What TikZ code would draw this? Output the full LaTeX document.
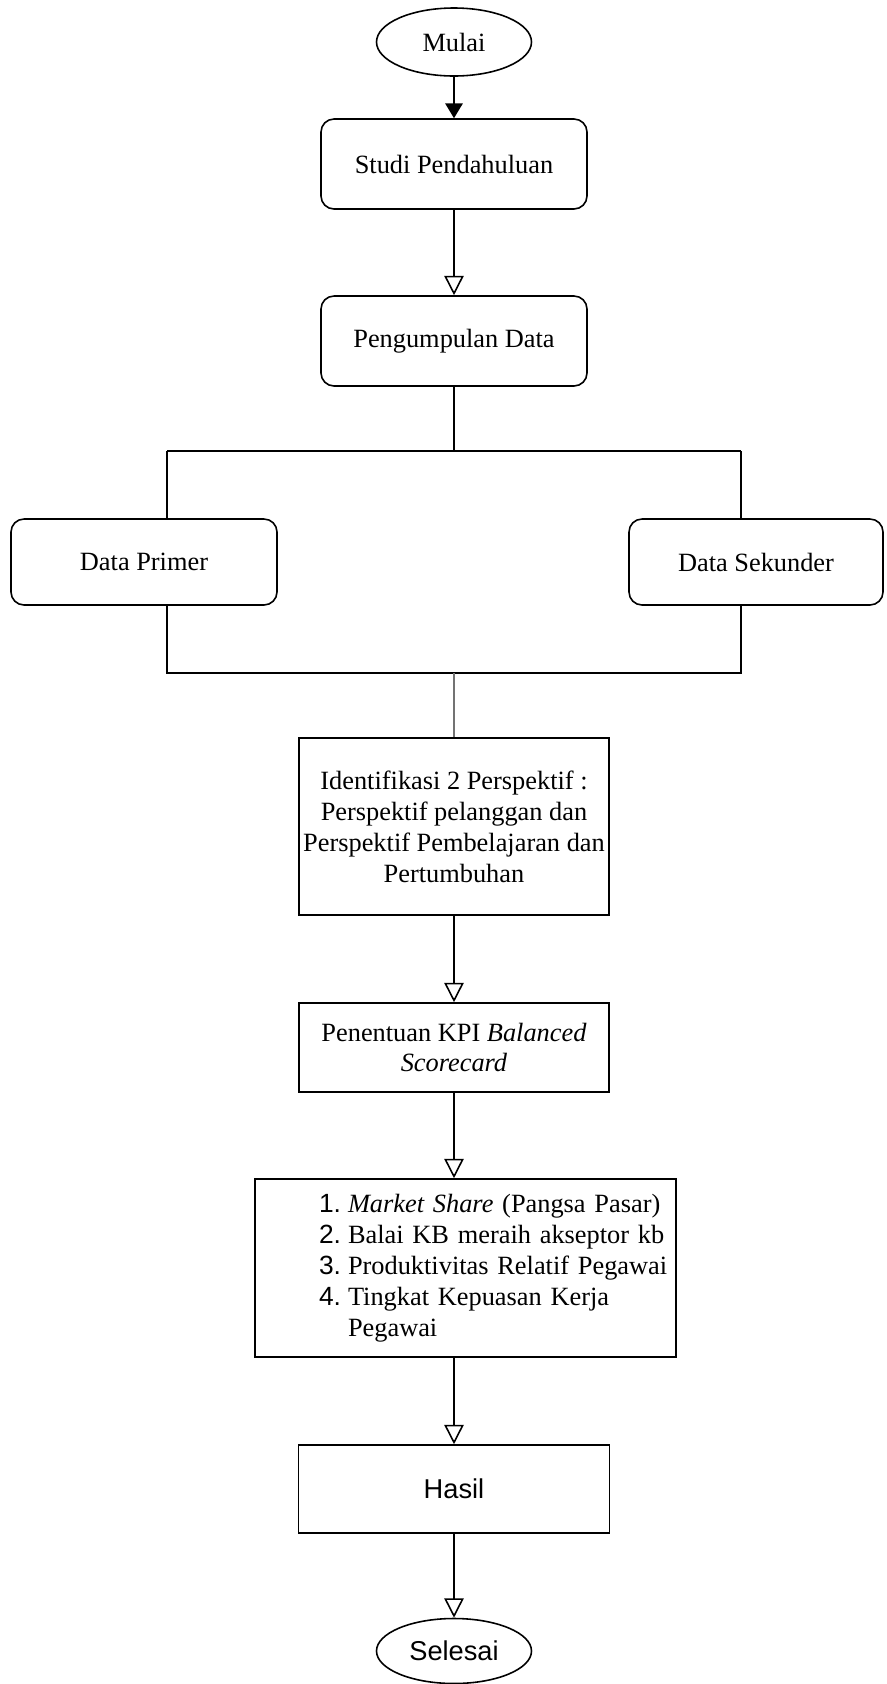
\documentclass[tikz,border=0pt]{standalone}
\usepackage{fontspec}
\setmainfont{Liberation Serif}
\setsansfont{Liberation Sans}
\usepackage{tikz}
\usetikzlibrary{shapes.geometric, arrows.meta, positioning, calc}

\begin{document}
\begin{tikzpicture}[
    terminal/.style={ellipse, draw=black, line width=0.9pt, minimum width=3.1cm, minimum height=1.36cm, inner sep=0pt, font=\fontsize{15}{17.6}\selectfont},
    process/.style={rectangle, rounded corners=0.26cm, draw=black, line width=0.9pt, minimum width=5.32cm, minimum height=1.8cm, align=center, font=\fontsize{15}{17.6}\selectfont},
    stage/.style={rectangle, draw=black, line width=0.9pt, minimum width=6.2cm, align=center, inner sep=0pt, font=\fontsize{15}{17.6}\selectfont},
    link/.style={line width=0.9pt},
    arrow/.style={line width=0.9pt, -{Triangle[open, length=11pt, width=11pt]}},
    startarrow/.style={line width=0.9pt, -{Triangle[length=8.5pt, width=10pt]}}
]
\useasboundingbox (0,0) rectangle (17.72,-33.68);

% Start and preparation
\node[terminal] (mulai) at (9.08, -0.84) {Mulai};
\node[process] (studi) at (9.08, -3.28) {Studi Pendahuluan};
\node[process] (pengumpulan) at (9.08, -6.82) {Pengumpulan Data};

% Data sources
\node[process, minimum height=1.72cm] (primer) at (2.88, -11.24) {Data Primer};
\node[process, minimum width=5.08cm, minimum height=1.72cm] (sekunder) at (15.12, -11.24) {Data Sekunder};
\coordinate (split) at (9.08, -9.02);
\coordinate (splitL) at (3.34, -9.02);
\coordinate (splitR) at (14.82, -9.02);
\coordinate (merge) at (9.08, -13.46);
\coordinate (mergeL) at (3.34, -13.46);
\coordinate (mergeR) at (14.82, -13.46);

% Analysis
\node[stage, minimum height=3.54cm] (identifikasi) at (9.08, -16.53) {Identifikasi 2 Perspektif :\\Perspektif pelanggan dan\\Perspektif Pembelajaran dan\\Pertumbuhan};
\node[stage, minimum height=1.78cm] (penentuan) at (9.08, -20.95) {Penentuan KPI \textit{Balanced}\\\textit{Scorecard}};
\node[rectangle, draw=black, line width=0.9pt, minimum width=8.42cm, minimum height=3.56cm, text width=7.9cm, inner xsep=0.26cm, align=left, font=\fontsize{15}{17.6}\selectfont] (kpi) at (9.31, -25.36) {\hspace*{1.02cm}\begin{tabular}{@{}l@{\hspace{4pt}}l@{}}
{\sffamily 1.} & \textit{Market Share} (Pangsa Pasar)\\
{\sffamily 2.} & Balai KB meraih akseptor kb\\
{\sffamily 3.} & Produktivitas Relatif Pegawai\\
{\sffamily 4.} & Tingkat Kepuasan Kerja\\
 & Pegawai
\end{tabular}};

% End
\node[stage, minimum width=6.22cm, minimum height=1.76cm, font=\sffamily\fontsize{15.5}{18}\selectfont] (hasil) at (9.08, -29.78) {Hasil};
\node[terminal, minimum height=1.3cm, font=\sffamily\fontsize{15.5}{18}\selectfont] (selesai) at (9.08, -33.02) {Selesai};

% Connections
\draw[startarrow] (mulai) -- (studi);
\draw[arrow] (studi) -- (pengumpulan);
\draw[link] (pengumpulan) -- (split);
\draw[link] (splitL) -- (splitR);
\draw[link] (splitL) -- (splitL |- primer.north);
\draw[link] (splitR) -- (splitR |- sekunder.north);
\draw[link] (mergeL |- primer.south) -- (mergeL) -- (mergeR) -- (mergeR |- sekunder.south);
\draw[link, draw=black!55, line width=1.3pt] (merge) -- (identifikasi);
\draw[arrow] (identifikasi) -- (penentuan);
\draw[arrow] (penentuan) -- (penentuan |- kpi.north);
\draw[arrow] (hasil |- kpi.south) -- (hasil);
\draw[arrow] (hasil) -- (selesai);

\end{tikzpicture}
\end{document}
